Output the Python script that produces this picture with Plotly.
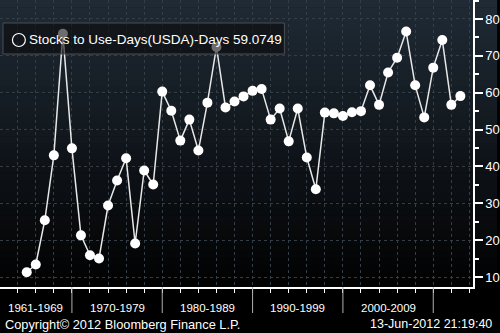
import plotly.graph_objects as go

years = list(range(1965, 2014))
stocks_to_use_days = [11.3, 13.4, 25.4, 43.0, 76.0, 44.9, 21.3, 15.9, 15.0, 29.4,
                      36.2, 42.2, 19.1, 38.9, 35.1, 60.3, 55.1, 47.0, 52.7, 44.3,
                      57.3, 72.4, 56.0, 57.6, 59.0, 60.5, 61.0, 52.7, 55.7, 46.8,
                      55.7, 42.4, 33.8, 54.6, 54.4, 53.7, 54.7, 55.0, 62.0, 56.7,
                      65.5, 69.5, 76.6, 62.0, 53.3, 66.8, 74.3, 56.7, 59.0749]
decade_labels = ["1961-1969", "1970-1979", "1980-1989", "1990-1999", "2000-2009"]
decade_centers = [1966, 1975, 1985, 1995, 2005]
decade_breaks = [1970, 1980, 1990, 2000, 2010]
y_ticks = [10, 20, 30, 40, 50, 60, 70, 80]
series_name = "Stocks to Use-Days(USDA)-Days"
last_value_text = "59.0749"

W, H = 500, 333
plot_w, plot_h = 475.7, 287.0
FONT = "Liberation Sans"

fig = go.Figure()
fig.add_trace(go.Scatter(
    x=years, y=stocks_to_use_days, mode="lines+markers",
    line=dict(color="#e8e8e8", width=1.5),
    marker=dict(color="white", size=10, line=dict(width=0)),
    hoverinfo="skip", showlegend=False))

shapes = []
# background gradient (beneath gridlines)
n = 40
top = (31, 42, 53)
for i in range(n):
    f = i / (n - 1)
    c = tuple(int(round(t * (1 - f) + 2 * f)) for t in top)
    shapes.append(dict(type="rect", xref="paper", yref="paper",
                       x0=0, x1=W / plot_w,
                       y0=1 - (i + 1) / n - 0.002, y1=1 - i / n,
                       fillcolor="rgb(%d,%d,%d)" % c, line=dict(width=0),
                       layer="below"))
# decade separators
for b in decade_breaks:
    shapes.append(dict(type="line", xref="x", yref="paper", x0=b, x1=b,
                       y0=0, y1=-(313 - 287) / plot_h,
                       line=dict(color="#b0b0b0", width=1), layer="above"))
# legend box
shapes.append(dict(type="rect", xref="paper", yref="paper",
                   x0=3 / plot_w, x1=286 / plot_w,
                   y0=1 - 54 / plot_h, y1=1 - 23 / plot_h,
                   fillcolor="rgba(12,12,12,0.6)",
                   line=dict(color="#4a4f55", width=1), layer="above"))
cx, cy, r = 19 / plot_w, 1 - 40 / plot_h, 6.5
shapes.append(dict(type="circle", xref="paper", yref="paper",
                   x0=cx - r / plot_w, x1=cx + r / plot_w,
                   y0=cy - r / plot_h, y1=cy + r / plot_h,
                   line=dict(color="white", width=1.2), layer="above"))

annotations = []
annotations.append(dict(xref="paper", yref="paper", x=27 / plot_w, y=cy,
                        xanchor="left", yanchor="middle", showarrow=False,
                        text=series_name + " " + last_value_text,
                        font=dict(family=FONT, size=13.5, color="white")))
for lab, c in zip(decade_labels, decade_centers):
    annotations.append(dict(xref="x", yref="paper", x=c, y=-(308 - 287) / plot_h,
                            xanchor="center", yanchor="middle", showarrow=False,
                            text=lab, font=dict(family=FONT, size=11.5, color="white")))
annotations.append(dict(xref="paper", yref="paper", x=3 / plot_w, y=-(324 - 287) / plot_h,
                        xanchor="left", yanchor="middle", showarrow=False,
                        text="Copyright\u00a9 2012 Bloomberg Finance L.P.",
                        font=dict(family=FONT, size=12.8, color="white")))
annotations.append(dict(xref="paper", yref="paper", x=497 / plot_w, y=-(324 - 287) / plot_h,
                        xanchor="right", yanchor="middle", showarrow=False,
                        text="13-Jun-2012 21:19:40",
                        font=dict(family=FONT, size=12.5, color="white")))

fig.update_layout(
    width=W, height=H, autosize=False,
    margin=dict(l=0, r=W - plot_w, t=0, b=H - plot_h, pad=0),
    paper_bgcolor="black", plot_bgcolor="rgba(0,0,0,0)",
    shapes=shapes, annotations=annotations, showlegend=False,
    xaxis=dict(range=[1962.04, 2014.4], tick0=1962, dtick=2,
               showgrid=True, gridcolor="#353d46", griddash="dot", gridwidth=1,
               showticklabels=False, ticks="outside", ticklen=4, tickcolor="white",
               showline=True, linecolor="white", linewidth=1.5, zeroline=False,
               fixedrange=True),
    yaxis=dict(range=[7.29, 85.15], side="right", tickvals=y_ticks,
               showgrid=True, gridcolor="#353d46", griddash="dot", gridwidth=1,
               ticks="outside", ticklen=8, tickwidth=2, tickcolor="white",
               minor=dict(dtick=5, tick0=0, ticks="outside", ticklen=4,
                          tickcolor="white", showgrid=False),
               showline=True, linecolor="white", linewidth=1.5, zeroline=False,
               tickfont=dict(family=FONT, size=13, color="white"),
               fixedrange=True),
)
fig.write_html("out.html")
